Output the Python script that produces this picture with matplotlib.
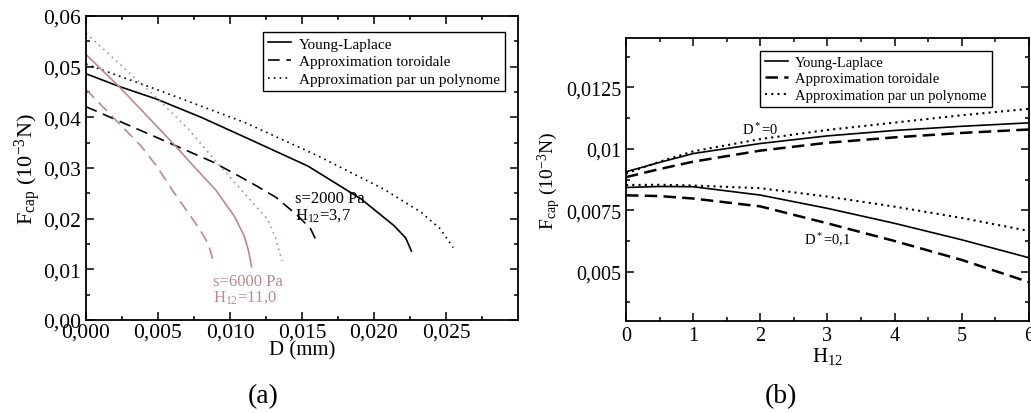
import numpy as np
import matplotlib.pyplot as plt
from matplotlib.ticker import FixedLocator, FuncFormatter

plt.rcParams['font.family'] = ['Liberation Serif', 'DejaVu Serif']
plt.rcParams['mathtext.fontset'] = 'custom'
plt.rcParams['mathtext.rm'] = 'Liberation Serif'
plt.rcParams['mathtext.it'] = 'Liberation Serif:italic'

pink = '#bc8a8a'

# (a) Fcap vs D, s=2000 Pa (black) and s=6000 Pa (pink)
yl_2000_D = [0, 0.0023, 0.0049, 0.0080, 0.0111, 0.0154, 0.0191, 0.0214, 0.0222, 0.0226]
yl_2000_F = [0.0486, 0.0461, 0.0436, 0.0400, 0.0360, 0.0304, 0.0239, 0.0186, 0.0162, 0.0136]
tor_2000_D = [0, 0.0038, 0.0088, 0.0114, 0.0132, 0.0147, 0.0156, 0.0161]
tor_2000_F = [0.0421, 0.0374, 0.0312, 0.0272, 0.0242, 0.0206, 0.0180, 0.0150]
poly_2000_D = [0, 0.0050, 0.0111, 0.0161, 0.0207, 0.0233, 0.0246, 0.0255]
poly_2000_F = [0.0505, 0.0454, 0.0389, 0.0324, 0.0258, 0.0212, 0.0180, 0.0143]

yl_6000_D = [0, 0.00225, 0.0050, 0.0060, 0.0074, 0.0090, 0.0103, 0.0110, 0.0113, 0.0115]
yl_6000_F = [0.0524, 0.0462, 0.0380, 0.0350, 0.0306, 0.0257, 0.0205, 0.0165, 0.0135, 0.0105]
tor_6000_D = [0, 0.0038, 0.0049, 0.0061, 0.0079, 0.0085, 0.0088]
tor_6000_F = [0.0455, 0.0344, 0.0304, 0.0252, 0.0179, 0.0150, 0.0120]
poly_6000_D = [0, 0.0025, 0.0050, 0.0071, 0.0093, 0.0110, 0.0126, 0.0132, 0.0136]
poly_6000_F = [0.0566, 0.0501, 0.0436, 0.0377, 0.0304, 0.0250, 0.0199, 0.0160, 0.0117]

# (b) Fcap vs H12, D*=0 and D*=0,1
H = [0, 0.5, 1, 2, 3, 4, 5, 6]
yl_d0 = [0.00907, 0.00945, 0.00981, 0.01022, 0.01053, 0.01075, 0.01092, 0.01106]
tor_d0 = [0.00885, 0.00918, 0.00948, 0.00993, 0.01025, 0.01047, 0.01065, 0.01079]
poly_d0 = [0.00900, 0.00948, 0.00990, 0.01040, 0.01077, 0.01107, 0.01137, 0.01163]
yl_d01 = [0.00843, 0.00847, 0.00846, 0.00812, 0.00758, 0.00697, 0.00630, 0.00557]
tor_d01 = [0.00811, 0.00808, 0.00798, 0.00766, 0.00697, 0.00625, 0.00548, 0.00458]
poly_d01 = [0.00853, 0.00854, 0.00851, 0.00840, 0.00806, 0.00765, 0.00719, 0.00666]

labels = ["Young-Laplace", "Approximation toroidale", "Approximation par un polynome"]


def comma(fmt):
    return FuncFormatter(lambda v, p: (fmt % v).replace('.', ','))


def style(ax, size):
    ax.tick_params(which='both', direction='in', top=True, right=True, labelsize=size, width=1.1)
    ax.tick_params(which='major', length=6)
    ax.tick_params(which='minor', length=3)
    for s in ax.spines.values():
        s.set_linewidth(1.3)


fig = plt.figure(figsize=(10.31, 4.14), dpi=100)
ax1 = fig.add_axes([0.0834, 0.2246, 0.4190, 0.7344])
ax2 = fig.add_axes([0.6072, 0.2225, 0.3908, 0.6825])

dash1 = (0, (7, 4))
dot = (0, (1, 2.5))
ax1.plot(yl_2000_D, yl_2000_F, color='k', lw=1.2, label=labels[0])
ax1.plot(tor_2000_D, tor_2000_F, color='k', lw=1.2, ls=dash1, label=labels[1])
ax1.plot(poly_2000_D, poly_2000_F, color='k', lw=1.2, ls=dot, label=labels[2])
ax1.plot(yl_6000_D, yl_6000_F, color=pink, lw=1.2)
ax1.plot(tor_6000_D, tor_6000_F, color=pink, lw=1.2, ls=dash1)
ax1.plot(poly_6000_D, poly_6000_F, color=pink, lw=1.2, ls=dot)

ax1.set_xlim(0, 0.03)
ax1.set_ylim(0, 0.06)
ax1.xaxis.set_major_locator(FixedLocator([0, 0.005, 0.01, 0.015, 0.02, 0.025]))
ax1.xaxis.set_minor_locator(FixedLocator(np.arange(0.0025, 0.03, 0.005)))
ax1.yaxis.set_major_locator(FixedLocator([0, 0.01, 0.02, 0.03, 0.04, 0.05, 0.06]))
ax1.yaxis.set_minor_locator(FixedLocator(np.arange(0.005, 0.06, 0.01)))
ax1.xaxis.set_major_formatter(comma('%.3f'))
ax1.yaxis.set_major_formatter(comma('%.2f'))
style(ax1, 15.5)
ax1.tick_params(axis='x', pad=2)
ax1.set_xlabel("D (mm)", fontsize=15, labelpad=-1)
ax1.set_ylabel(r"F$_\mathrm{cap}$ (10$^{-3}$N)", fontsize=16, labelpad=0)
ax1.text(0.0145, 0.0201, "s=2000 Pa\nH$_{12}$=3,7", fontsize=12, color='k', linespacing=0.95)
ax1.text(0.0088, 0.0038, "s=6000 Pa\nH$_{12}$=11,0", fontsize=12, color=pink, linespacing=0.95)
leg1 = ax1.legend(loc='upper right', bbox_to_anchor=(0.970, 0.948), fontsize=11,
                  handlelength=1.5, borderpad=0.35, labelspacing=0.25, handletextpad=0.5,
                  borderaxespad=0, fancybox=False, edgecolor='k', framealpha=1)
leg1.get_frame().set_linewidth(1.0)

dash2 = (0, (5, 2.5))
ax2.plot(H, yl_d0, color='k', lw=1.2, label=labels[0])
ax2.plot(H, tor_d0, color='k', lw=1.8, ls=dash2, label=labels[1])
ax2.plot(H, poly_d0, color='k', lw=1.5, ls=(0, (1, 2)), label=labels[2])
ax2.plot(H, yl_d01, color='k', lw=1.2)
ax2.plot(H, tor_d01, color='k', lw=1.8, ls=dash2)
ax2.plot(H, poly_d01, color='k', lw=1.5, ls=(0, (1, 2)))

ax2.set_xlim(0, 6)
ax2.set_ylim(0.003, 0.0145)
ax2.xaxis.set_major_locator(FixedLocator([0, 1, 2, 3, 4, 5, 6]))
ax2.xaxis.set_minor_locator(FixedLocator(np.arange(0.5, 6, 1)))
ax2.yaxis.set_major_locator(FixedLocator([0.005, 0.0075, 0.01, 0.0125]))
ax2.yaxis.set_minor_locator(FixedLocator([0.00375, 0.00625, 0.00875, 0.01125, 0.01375]))
ax2.xaxis.set_major_formatter(FuncFormatter(lambda v, p: '%d' % v))
ax2.yaxis.set_major_formatter(FuncFormatter(lambda v, p: ('%g' % v).replace('.', ',')))
style(ax2, 14.5)
ax2.set_xlabel("H$_{12}$", fontsize=15, labelpad=0)
ax2.set_ylabel(r"F$_\mathrm{cap}$ (10$^{-3}$N)", fontsize=14, labelpad=2)
ax2.text(1.72, 0.0106, "D$^*$=0", fontsize=10.5)
ax2.text(2.65, 0.00611, "D$^*$=0,1", fontsize=10.5)
leg2 = ax2.legend(loc='upper right', bbox_to_anchor=(0.908, 0.955), fontsize=10.5,
                  handlelength=1.6, borderpad=0.35, labelspacing=0.2, handletextpad=0.5,
                  borderaxespad=0, fancybox=False, edgecolor='k', framealpha=1)
leg2.get_frame().set_linewidth(1.0)

fig.text(0.255, 0.041, "(a)", fontsize=20, ha='center', va='center')
fig.text(0.757, 0.041, "(b)", fontsize=20, ha='center', va='center')

fig.savefig("out.png", dpi=100)
